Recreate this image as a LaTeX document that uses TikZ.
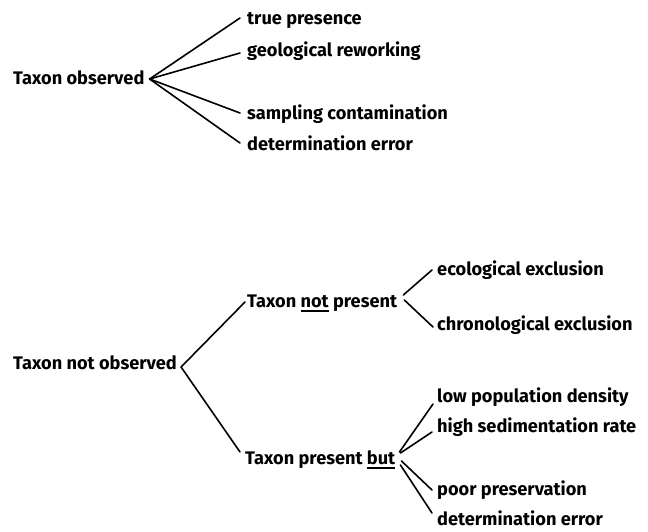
\documentclass[tikz,border=0pt]{standalone}
\usepackage{fontspec}
\setmainfont{Fira Sans}[UprightFont=* Bold]
\newcommand\ulx[1]{\setbox0\hbox{#1}\rlap{\rule[-4.5pt]{\wd0}{1.4pt}}\box0\relax}
\begin{document}
\begin{tikzpicture}[x=1pt,y=-1pt,
  lbl/.style={anchor=base west, inner sep=0pt, font=\fontsize{18.2}{21}\selectfont},
  br/.style={line width=1.6pt, line cap=round}]
\useasboundingbox (0,0) rectangle (648,531);
% top tree
\node[lbl] (tob) at (13,84) {Taxon observed};
\node[lbl] (tp)  at (247,24) {true presence};
\node[lbl] (gr)  at (247,56) {geological reworking};
\node[lbl] (sc)  at (247,119) {sampling contamination};
\node[lbl] (de1) at (247,150) {determination error};
\coordinate (b1) at ([shift={(5pt,5pt)}]tob.base east);
\draw[br] (b1) -- ([shift={(-7pt,6pt)}]tp.base west);
\draw[br] (b1) -- ([shift={(-7pt,3pt)}]gr.base west);
\draw[br] (b1) -- ([shift={(-7pt,6pt)}]sc.base west);
\draw[br] (b1) -- ([shift={(-7pt,7pt)}]de1.base west);
% bottom tree
\node[lbl] (tno) at (13,369) {Taxon not observed};
\node[lbl] (tnp) at (247,307) {Taxon \ulx{not} present};
\node[lbl] (tpb) at (245,464) {Taxon present \ulx{but}};
\node[lbl] (ee)  at (437,275) {ecological exclusion};
\node[lbl] (ce)  at (437,330) {chronological exclusion};
\node[lbl] (lpd) at (437,402) {low population density};
\node[lbl] (hsr) at (437,432) {high sedimentation rate};
\node[lbl] (pp)  at (437,495) {poor preservation};
\node[lbl] (de2) at (437,525) {determination error};
\coordinate (b2) at ([shift={(4pt,2pt)}]tno.base east);
\draw[br] (b2) -- ([shift={(-2pt,5pt)}]tnp.base west);
\draw[br] (b2) -- ([shift={(-5pt,12pt)}]tpb.base west);
\draw[br] ([shift={(6pt,12pt)}]tnp.base east) -- ([shift={(-5pt,5pt)}]ee.base west);
\draw[br] ([shift={(7pt,7pt)}]tnp.base east) -- ([shift={(-4pt,3pt)}]ce.base west);
\draw[br] ([shift={(4pt,12pt)}]tpb.base east) -- ([shift={(-4pt,-2pt)}]lpd.base west);
\draw[br] ([shift={(5pt,11pt)}]tpb.base east) -- ([shift={(-5pt,0pt)}]hsr.base west);
\draw[br] ([shift={(6pt,3pt)}]tpb.base east) -- ([shift={(-5pt,5pt)}]pp.base west);
\draw[br] ([shift={(5pt,-1pt)}]tpb.base east) -- ([shift={(-5pt,12pt)}]de2.base west);
\end{tikzpicture}
\end{document}
